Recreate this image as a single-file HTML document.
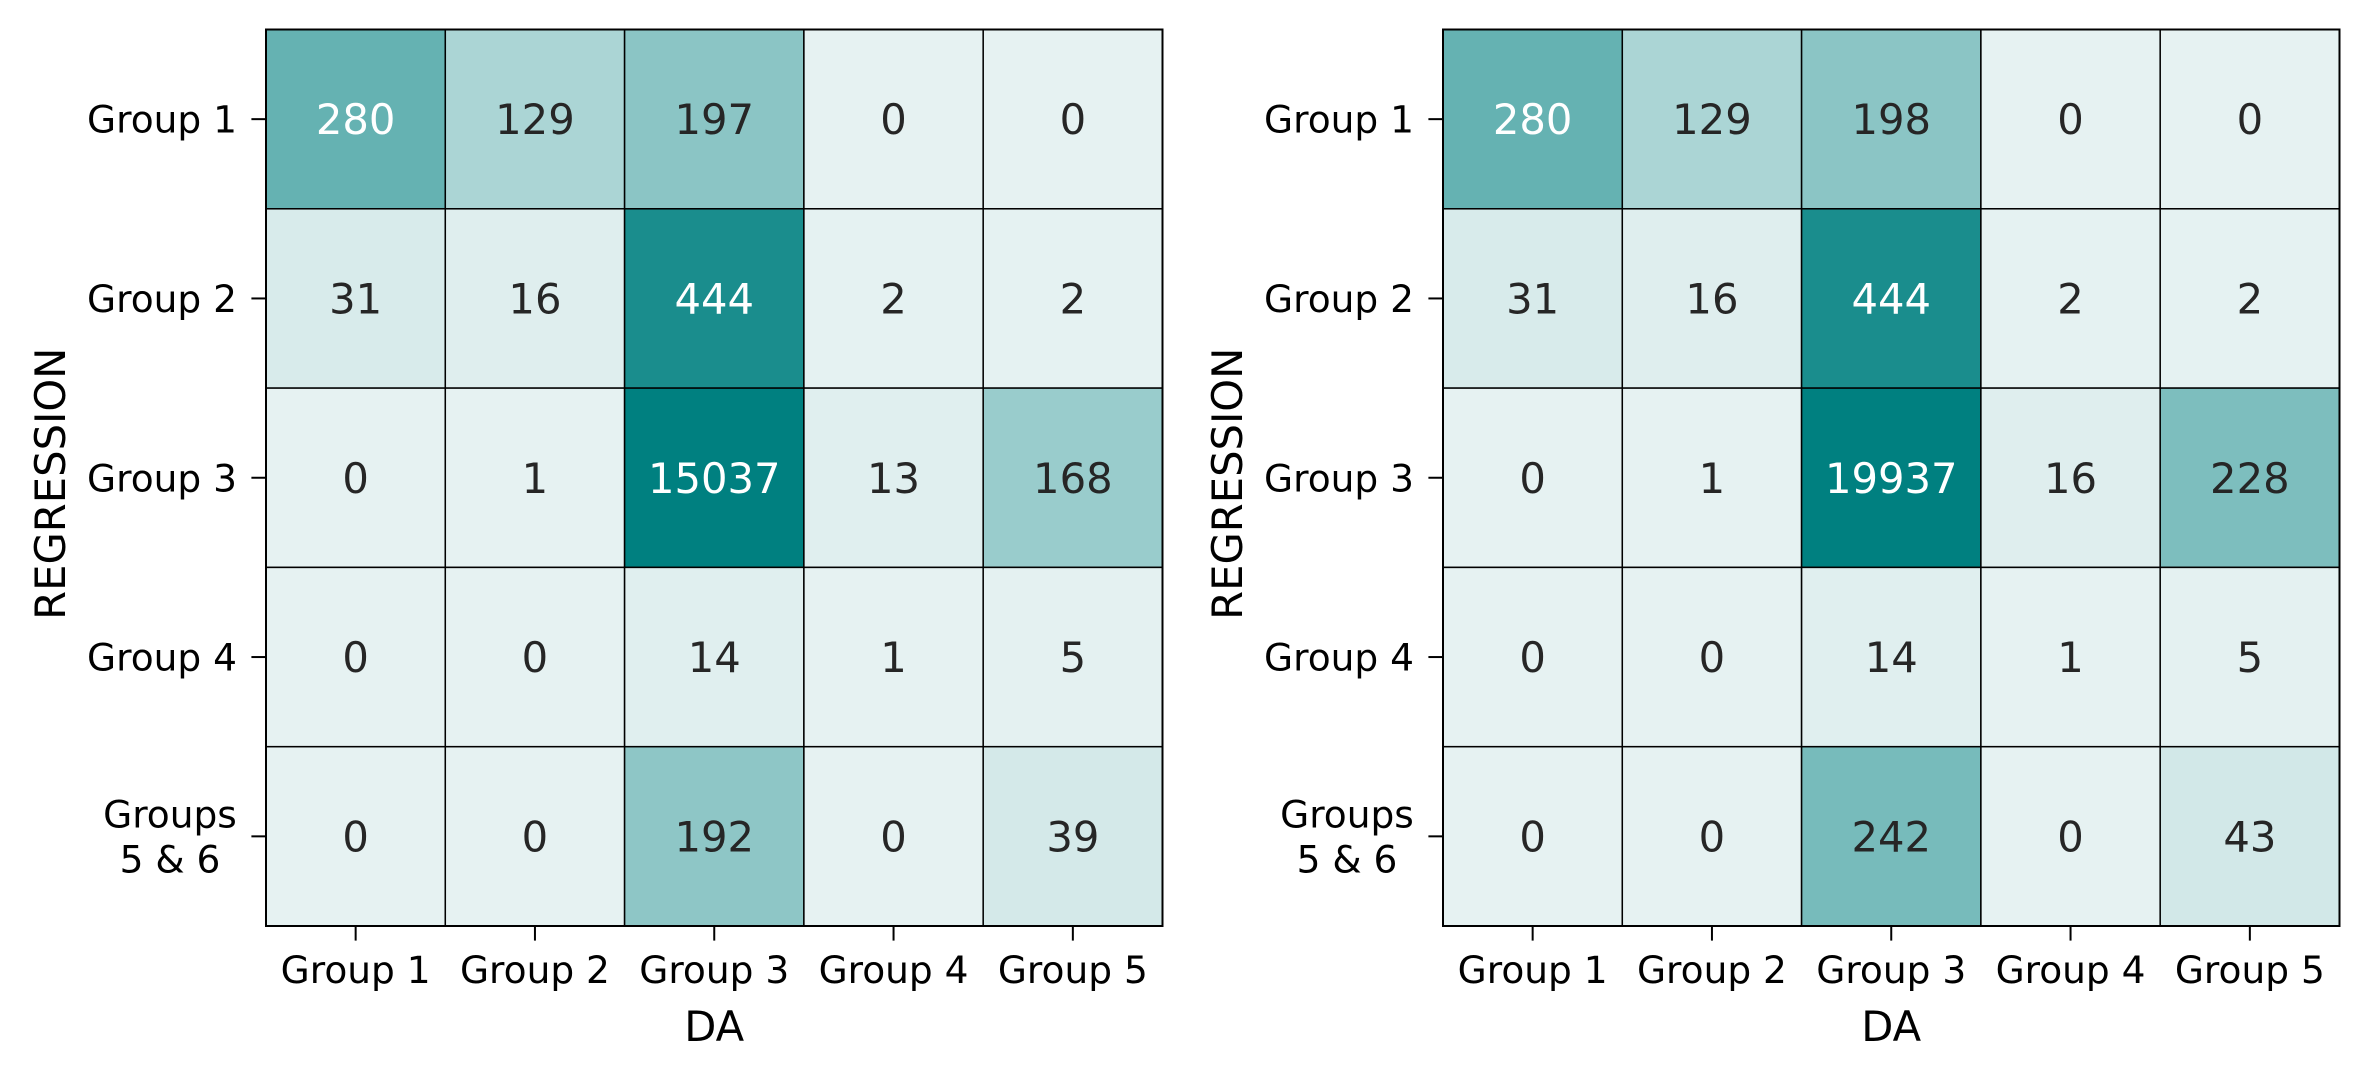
<!DOCTYPE html>
<html><head><meta charset="utf-8"><style>
html,body{margin:0;padding:0;background:#fff;}
svg{display:block;font-family:"DejaVu Sans","Liberation Sans",sans-serif;}
</style></head><body>
<svg id="chart" width="2369" height="1078" viewBox="0 0 2369 1078" xmlns="http://www.w3.org/2000/svg"></svg>
<script>
const rowLabels = ["Group 1","Group 2","Group 3","Group 4","Groups|5 & 6"];
const colLabels = ["Group 1","Group 2","Group 3","Group 4","Group 5"];
const leftValues = [
  [280,129,197,0,0],
  [31,16,444,2,2],
  [0,1,15037,13,168],
  [0,0,14,1,5],
  [0,0,192,0,39]
];
const rightValues = [
  [280,129,198,0,0],
  [31,16,444,2,2],
  [0,1,19937,16,228],
  [0,0,14,1,5],
  [0,0,242,0,43]
];
const xAxisTitle = "DA";
const yAxisTitle = "REGRESSION";
const vmax = 500;

const svg = document.getElementById('chart');
const NS = "http://www.w3.org/2000/svg";
function mk(tag, attrs, parent){
  const e = document.createElementNS(NS, tag);
  for (const k in attrs) e.setAttribute(k, attrs[k]);
  (parent||svg).appendChild(e);
  return e;
}
function color(v){
  const t = Math.min(v / vmax, 1);
  const r = Math.round(230 + (0 - 230) * t);
  const g = Math.round(242 + (128 - 242) * t);
  const b = Math.round(242 + (128 - 242) * t);
  return `rgb(${r},${g},${b})`;
}
const plotTop = 29.5, size = 896.5, n = 5, cell = size / n;

function drawPanel(x0, values, id){
  const g = mk('g', {});
  
  
  const xScale = i => x0 + i * cell;
  const yScale = j => plotTop + j * cell;
  values.forEach((row, j) => row.forEach((v, i) => {
    const r = mk('rect', {x: xScale(i), y: yScale(j), width: cell, height: cell, fill: color(v), stroke: '#000', 'stroke-width': 1.5}, g);
    
    
    const t = mk('text', {x: xScale(i) + cell/2, y: yScale(j) + cell/2 + 15, 'text-anchor': 'middle', 'font-size': 41.7, fill: (v / vmax > 0.5) ? '#fff' : '#262626'}, g);
    t.textContent = v;
    
    
  }));
  mk('rect', {x: x0, y: plotTop, width: size, height: size, fill: 'none', stroke: '#000', 'stroke-width': 2}, g);
  rowLabels.forEach((lab, j) => {
    const cy = yScale(j) + cell/2;
    mk('line', {x1: x0 - 14.6, x2: x0, y1: cy, y2: cy, stroke: '#000', 'stroke-width': 2}, g);
    const parts = lab.split('|');
    const t = mk('text', {x: x0 - 29, y: cy, 'text-anchor': 'end', 'font-size': 37.5, fill: '#000'}, g);
    
    
    if (parts.length === 1) { t.setAttribute('y', cy + 13.5); t.textContent = lab; }
    else {
      const w = 140;
      t.setAttribute('text-anchor', 'middle');
      t.setAttribute('x', x0 - 29 - w/2 + 3);
      parts.forEach((p, k) => {
        const ts = mk('tspan', {x: x0 - 29 - w/2 + 3, y: cy + 13.5 + (k - 0.5) * 45}, t);
        ts.textContent = p;
      });
    }
  });
  colLabels.forEach((lab, i) => {
    const cx = xScale(i) + cell/2;
    mk('line', {x1: cx, x2: cx, y1: plotTop + size, y2: plotTop + size + 14.6, stroke: '#000', 'stroke-width': 2}, g);
    const t = mk('text', {x: cx, y: plotTop + size + 57, 'text-anchor': 'middle', 'font-size': 37.5, fill: '#000'}, g);
    t.textContent = lab;
    
    
  });
  const xt = mk('text', {x: x0 + size/2, y: 1041, 'text-anchor': 'middle', 'font-size': 41.7, fill: '#000'}, g);
  xt.textContent = xAxisTitle;
  
  
  const yx = x0 - 216 + 15;
  const yc = plotTop + size/2 + 6;
  const yt = mk('text', {x: yx, y: yc, 'text-anchor': 'middle', 'font-size': 41.7, fill: '#000', transform: `rotate(-90 ${yx} ${yc})`}, g);
  yt.textContent = yAxisTitle;
  
  
}
drawPanel(266, leftValues, 'left');
drawPanel(1443, rightValues, 'right');
</script>
</body></html>
